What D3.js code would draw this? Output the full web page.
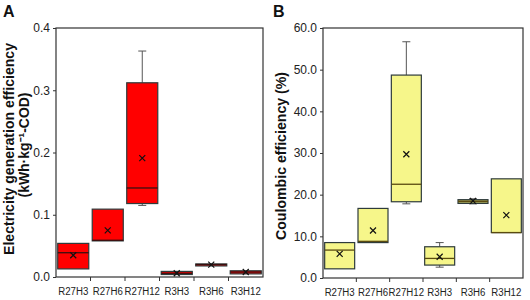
<!DOCTYPE html>
<html>
<head>
<meta charset="utf-8">
<script src="https://cdn.jsdelivr.net/npm/d3@7"></script>
<style>
  body { margin: 0; background: #fff; }
  svg { display: block; font-family: "Liberation Sans", Arial, sans-serif; }
</style>
</head>
<body>
<svg id="chart" width="530" height="300"></svg>
<script>
// Sample groups
const groups = ["R27H3", "R27H6", "R27H12", "R3H3", "R3H6", "R3H12"];

// Panel A: electricity generation efficiency (kWh·kg-1-COD)
const elecMin    = [0.013, 0.058, 0.115, 0.004, 0.019, 0.005];
const elecQ1     = [0.013, 0.058, 0.118, 0.004, 0.019, 0.005];
const elecMedian = [0.039, 0.059, 0.143, 0.006, 0.020, 0.008];
const elecQ3     = [0.054, 0.109, 0.312, 0.009, 0.021, 0.010];
const elecMax    = [0.054, 0.109, 0.363, 0.009, 0.021, 0.010];
const elecMean   = [0.035, 0.075, 0.191, 0.006, 0.020, 0.008];
const elecTicks  = [0, 0.1, 0.2, 0.3, 0.4];

// Panel B: coulombic efficiency (%)
const ceMin    = [2.2, 8.5, 17.8, 2.6, 17.8, 10.9];
const ceQ1     = [2.2, 8.5, 18.3, 3.1, 17.9, 10.9];
const ceMedian = [6.7, 8.8, 22.5, 4.7, 18.4, 10.9];
const ceQ3     = [8.5, 16.7, 48.7, 7.5, 18.8, 23.8];
const ceMax    = [8.5, 16.7, 56.7, 8.5, 19.0, 23.8];
const ceMean   = [5.8, 11.4, 29.7, 5.1, 18.5, 15.1];
const ceTicks  = [0, 10, 20, 30, 40, 50, 60];

const svg = d3.select("#chart");

function drawPanel(cfg) {
  // build rows from the arrays
  const rows = groups.map((g, i) => ({
    g: g, min: cfg.min[i], q1: cfg.q1[i], med: cfg.median[i],
    q3: cfg.q3[i], max: cfg.max[i], mean: cfg.mean[i]
  }));

  const x = d3.scaleBand().domain(groups).range([cfg.left, cfg.right]).padding(0);
  const y = d3.scaleLinear().domain(cfg.domain).range([cfg.bottom, cfg.top]);
  const bw = x.bandwidth() * 0.9;

  const g = svg.append("g");

  // frame
  g.append("rect")
    .attr("x", cfg.left).attr("y", cfg.top)
    .attr("width", cfg.right - cfg.left).attr("height", cfg.bottom - cfg.top)
    .attr("fill", "none").attr("stroke", "#333").attr("stroke-width", 1.2);

  // y axis
  const yAxis = g.append("g")
    .attr("transform", `translate(${cfg.left},0)`)
    .call(d3.axisLeft(y).tickValues(cfg.ticks).tickFormat(d3.format(".1f")).tickSize(3).tickPadding(3));
  yAxis.select(".domain").remove();
  yAxis.selectAll("line").attr("stroke", "#333");
  yAxis.selectAll("text").attr("font-size", 12).attr("fill", "#222")
    .attr("font-family", "Liberation Sans, Arial, sans-serif");

  // x axis: labels under bands, tick marks at band boundaries
  const xAxis = g.append("g")
    .attr("transform", `translate(0,${cfg.bottom})`)
    .call(d3.axisBottom(x).tickSize(0).tickPadding(10));
  xAxis.select(".domain").remove();
  xAxis.selectAll("text").attr("font-size", 11.5).attr("fill", "#222")
    .attr("transform", "scale(0.84,1)")
    .attr("font-family", "Liberation Sans, Arial, sans-serif");

  g.selectAll("line.bound")
    .data(groups.slice(1))
    .join("line")
    .attr("class", "bound")
    .attr("x1", d => x(d)).attr("x2", d => x(d))
    .attr("y1", cfg.bottom).attr("y2", cfg.bottom + 4)
    .attr("stroke", "#333");

  const cx = d => x(d.g) + x.bandwidth() / 2;

  // whiskers
  g.selectAll("line.whiskUp")
    .data(rows.filter(d => d.max > d.q3))
    .join("line")
    .attr("x1", cx).attr("x2", cx)
    .attr("y1", d => y(d.q3)).attr("y2", d => y(d.max))
    .attr("stroke", "#555");
  g.selectAll("line.capUp")
    .data(rows.filter(d => d.max > d.q3))
    .join("line")
    .attr("x1", d => cx(d) - 4).attr("x2", d => cx(d) + 4)
    .attr("y1", d => y(d.max)).attr("y2", d => y(d.max))
    .attr("stroke", "#555");
  g.selectAll("line.whiskDn")
    .data(rows.filter(d => d.min < d.q1))
    .join("line")
    .attr("x1", cx).attr("x2", cx)
    .attr("y1", d => y(d.q1)).attr("y2", d => y(d.min))
    .attr("stroke", "#555");
  g.selectAll("line.capDn")
    .data(rows.filter(d => d.min < d.q1))
    .join("line")
    .attr("x1", d => cx(d) - 4).attr("x2", d => cx(d) + 4)
    .attr("y1", d => y(d.min)).attr("y2", d => y(d.min))
    .attr("stroke", "#555");

  // boxes
  g.selectAll("rect.box")
    .data(rows)
    .join("rect")
    .attr("class", "box")
    .attr("x", d => cx(d) - bw / 2)
    .attr("width", bw)
    .attr("y", d => y(d.q3))
    .attr("height", d => Math.max(2, y(d.q1) - y(d.q3)))
    .attr("fill", d => (y(d.q1) - y(d.q3) < 4 ? cfg.thinFill : cfg.fill))
    .attr("stroke", "#2e3b3b")
    .attr("stroke-width", 1.2);

  // medians
  g.selectAll("line.med")
    .data(rows)
    .join("line")
    .attr("x1", d => cx(d) - bw / 2).attr("x2", d => cx(d) + bw / 2)
    .attr("y1", d => y(d.med)).attr("y2", d => y(d.med))
    .attr("stroke", cfg.medColor).attr("stroke-width", 1.3);

  // means (×)
  g.selectAll("path.mean")
    .data(rows)
    .join("path")
    .attr("d", d => {
      const px = cx(d), py = y(d.mean), s = 3;
      return `M${px - s},${py - s}L${px + s},${py + s}M${px - s},${py + s}L${px + s},${py - s}`;
    })
    .attr("stroke", "#111").attr("stroke-width", 1.2).attr("fill", "none");

  // panel letter
  svg.append("text")
    .attr("x", cfg.letterX).attr("y", 17)
    .attr("font-size", 16).attr("font-weight", "bold").attr("fill", "#111")
    .text(cfg.letter);

  // y axis title
  cfg.titles.forEach((t, i) => {
    svg.append("text")
      .attr("transform", `translate(${cfg.titleX[i]},${cfg.titleY[i]}) rotate(-90)`)
      .attr("text-anchor", "middle")
      .attr("font-size", 14).attr("font-weight", "bold").attr("fill", "#111")
      .attr("textLength", cfg.titleLen[i]).attr("lengthAdjust", "spacingAndGlyphs")
      .text(t);
  });
}

drawPanel({
  left: 56, right: 263, top: 28, bottom: 277,
  domain: [0, 0.4], ticks: elecTicks,
  min: elecMin, q1: elecQ1, median: elecMedian, q3: elecQ3, max: elecMax, mean: elecMean,
  fill: "#ff0000", thinFill: "#ff0000", medColor: "#3a1010",
  letter: "A", letterX: 3,
  titles: ["Electricity generation efficiency", "(kWh\u00b7kg\u207b\u00b9-COD)"],
  titleX: [14, 29], titleY: [149, 145], titleLen: [212, 105]
});

drawPanel({
  left: 323, right: 523, top: 28, bottom: 278,
  domain: [0, 60], ticks: ceTicks,
  min: ceMin, q1: ceQ1, median: ceMedian, q3: ceQ3, max: ceMax, mean: ceMean,
  fill: "#f6f68a", thinFill: "#a3a35a", medColor: "#5a4a10",
  letter: "B", letterX: 273,
  titles: ["Coulombic efficiency  (%)"],
  titleX: [286], titleY: [156], titleLen: [168]
});
</script>
</body>
</html>
